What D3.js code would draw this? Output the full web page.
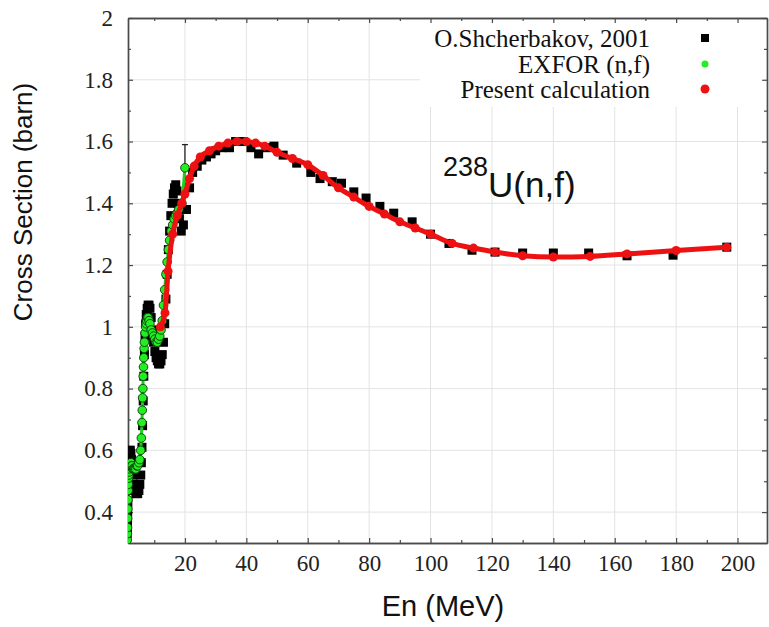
<!DOCTYPE html>
<html>
<head>
<meta charset="utf-8">
<script src="https://cdn.jsdelivr.net/npm/d3@7"></script>
<style>
  html, body { margin: 0; padding: 0; background: #fff; }
  svg { display: block; }
</style>
</head>
<body>
<svg id="chart" width="769" height="627"></svg>
<script>
// ---------------- DATA ----------------
const xMajorTicks = [20, 40, 60, 80, 100, 120, 140, 160, 180, 200];
const xMinorTicks = [10, 30, 50, 70, 90, 110, 130, 150, 170, 190];
const yMajorTicks = [0.4, 0.6, 0.8, 1.0, 1.2, 1.4, 1.6, 1.8, 2.0];
const yMinorTicks = [0.5, 0.7, 0.9, 1.1, 1.3, 1.5, 1.7, 1.9];
const yTickLabels = ["0.4", "0.6", "0.8", "1", "1.2", "1.4", "1.6", "1.8", "2"];

const legendLabels = ["O.Shcherbakov, 2001", "EXFOR (n,f)", "Present calculation"];

// O.Shcherbakov, 2001 (black squares) : energy (MeV), cross section (barn)
const shchE = [1.2,1.25,1.3,1.35,1.4,1.45,1.5,1.55,1.6,1.7,1.8,1.9,2.0,2.2,2.4,2.6,2.8,3.0,3.3,3.6,4.0,4.3,4.6,5.0,5.3,5.6,5.8,6.0,6.2,6.4,6.6,6.8,7.0,7.2,7.4,7.7,8.0,8.3,8.6,9.0,9.4,9.8,10.2,10.6,11.0,11.4,11.8,12.2,12.6,13.0,13.4,13.8,14.2,14.6,15.0,15.4,15.8,16.2,16.6,17.0,17.4,17.8,18.2,18.8,19.5,20.5,21.5,22.5,24,25.5,27,28.5,30,32,34.5,36.5,39,41.5,44,46.5,49,52,56.4,61,64,68,71,75,79,83.5,88,94,100,106,113.5,121,130,140,151.5,164,179,196.5];
const shchXS = [0.33,0.35,0.37,0.40,0.43,0.47,0.51,0.54,0.56,0.58,0.59,0.60,0.60,0.60,0.59,0.57,0.55,0.52,0.49,0.47,0.46,0.46,0.46,0.47,0.49,0.52,0.56,0.61,0.68,0.76,0.84,0.91,0.97,1.01,1.04,1.06,1.07,1.07,1.06,1.03,0.99,0.95,0.92,0.90,0.89,0.88,0.88,0.89,0.91,0.95,1.01,1.09,1.17,1.25,1.31,1.36,1.40,1.43,1.45,1.46,1.44,1.40,1.35,1.31,1.33,1.38,1.45,1.50,1.52,1.54,1.55,1.56,1.57,1.58,1.58,1.60,1.60,1.58,1.56,1.58,1.585,1.556,1.53,1.50,1.48,1.47,1.465,1.437,1.417,1.39,1.368,1.34,1.30,1.27,1.248,1.242,1.239,1.239,1.239,1.23,1.232,1.258];

// EXFOR (n,f) (green dots)
const exforE = [1.2,1.25,1.3,1.35,1.4,1.45,1.5,1.55,1.6,1.7,1.8,1.9,2.0,2.2,2.4,2.6,2.8,3.0,3.3,3.6,4.0,4.3,4.6,5.0,5.3,5.6,5.8,6.0,6.1,6.2,6.3,6.4,6.5,6.6,6.7,6.8,7.0,7.2,7.4,7.6,7.8,8.0,8.3,8.6,9.0,9.4,9.8,10.2,10.6,11.0,11.4,11.8,12.2,12.6,13.0,13.4,13.8,14.2,14.6,15.0,15.5,16.0,16.5,17.0,17.5,18.0,19.0,20.0];
const exforXS = [0.31,0.33,0.35,0.38,0.41,0.44,0.47,0.49,0.51,0.52,0.53,0.54,0.55,0.55,0.56,0.55,0.55,0.54,0.54,0.54,0.54,0.55,0.55,0.56,0.57,0.60,0.64,0.69,0.73,0.77,0.80,0.84,0.87,0.90,0.93,0.95,0.98,1.00,1.01,1.02,1.03,1.03,1.02,1.01,0.99,0.98,0.97,0.96,0.95,0.95,0.96,0.97,0.99,1.02,1.07,1.12,1.17,1.21,1.25,1.28,1.31,1.33,1.35,1.36,1.37,1.38,1.40,1.515];
const exforErrE = [20.0];
const exforErrLo = [1.44];
const exforErrHi = [1.59];

// Present calculation (red)
const calcE = [12,13.5,14.5,16,17.5,19,20,21.5,23,25,28,31,34,37,40,43,46,50,55,60,65,70,75,80,85,90,95,100,107,114,121,130,140,152,164,180,196.5];
const calcXS = [1.00,1.045,1.18,1.30,1.36,1.40,1.43,1.48,1.52,1.55,1.57,1.585,1.595,1.60,1.60,1.595,1.585,1.565,1.545,1.525,1.49,1.45,1.42,1.39,1.365,1.34,1.32,1.30,1.27,1.255,1.242,1.23,1.226,1.228,1.236,1.247,1.258];

// ---------------- DRAW ----------------
const svg = d3.select("#chart");
const x = d3.scaleLinear().domain([1.45, 209.6]).range([128, 767]);
const y = d3.scaleLinear().domain([0.3, 2.0]).range([543, 18]);
const X0 = x.range()[0], X1 = x.range()[1], Y0 = y.range()[0], Y1 = y.range()[1];

const serif = "'Liberation Serif','Times New Roman',serif";
const sans = "'Liberation Sans',Arial,sans-serif";
const axisColor = "#4a4a4a";

// grid
const grid = svg.append("g").attr("stroke", "#e3e3e3").attr("stroke-width", 1);
grid.selectAll("line.v").data(xMajorTicks).join("line")
  .attr("x1", d => x(d)).attr("x2", d => x(d)).attr("y1", Y0).attr("y2", Y1);
grid.selectAll("line.h").data(yMajorTicks.filter(v => v < 2)).join("line")
  .attr("x1", X0).attr("x2", X1).attr("y1", d => y(d)).attr("y2", d => y(d));

// legend background box (covers grid)
svg.append("rect").attr("x", 420).attr("y", Y1 + 1).attr("width", X1 - 421).attr("height", 88).attr("fill", "#fff");

// axes
function styleAxis(g) {
  g.select(".domain").attr("stroke", axisColor).attr("stroke-width", 1.4);
  g.selectAll(".tick line").attr("stroke", axisColor).attr("stroke-width", 1.2);
  g.selectAll("text").attr("fill", "#222").attr("font-family", serif).attr("font-size", 23);
}
const fmtY = d => yTickLabels[yMajorTicks.indexOf(d)] ?? d;

svg.append("g").attr("transform", `translate(0,${Y0})`)
  .call(d3.axisBottom(x).tickValues(xMajorTicks).tickSizeInner(-5).tickSizeOuter(0).tickPadding(12))
  .call(styleAxis);
svg.append("g").attr("transform", `translate(0,${Y0})`)
  .call(d3.axisBottom(x).tickValues(xMinorTicks).tickSizeInner(-3).tickSizeOuter(0).tickFormat(""))
  .call(styleAxis);
svg.append("g").attr("transform", `translate(0,${Y1})`)
  .call(d3.axisTop(x).tickValues(xMajorTicks).tickSizeInner(-5).tickSizeOuter(0).tickFormat(""))
  .call(styleAxis);
svg.append("g").attr("transform", `translate(0,${Y1})`)
  .call(d3.axisTop(x).tickValues(xMinorTicks).tickSizeInner(-3).tickSizeOuter(0).tickFormat(""))
  .call(styleAxis);

svg.append("g").attr("transform", `translate(${X0},0)`)
  .call(d3.axisLeft(y).tickValues(yMajorTicks).tickSizeInner(-5).tickSizeOuter(0).tickPadding(15).tickFormat(fmtY))
  .call(styleAxis);
svg.append("g").attr("transform", `translate(${X0},0)`)
  .call(d3.axisLeft(y).tickValues(yMinorTicks).tickSizeInner(-3).tickSizeOuter(0).tickFormat(""))
  .call(styleAxis);
svg.append("g").attr("transform", `translate(${X1},0)`)
  .call(d3.axisRight(y).tickValues(yMajorTicks).tickSizeInner(-5).tickSizeOuter(0).tickFormat(""))
  .call(styleAxis);
svg.append("g").attr("transform", `translate(${X1},0)`)
  .call(d3.axisRight(y).tickValues(yMinorTicks).tickSizeInner(-3).tickSizeOuter(0).tickFormat(""))
  .call(styleAxis);

// plot area clip
svg.append("clipPath").attr("id", "clip").append("rect")
  .attr("x", X0).attr("y", Y1).attr("width", X1 - X0).attr("height", Y0 - Y1);
const plot = svg.append("g").attr("clip-path", "url(#clip)");

// Shcherbakov squares
const shch = shchE.map((e, i) => ({e, v: shchXS[i]}));
plot.append("g").selectAll("rect").data(shch).join("rect")
  .attr("x", d => x(d.e) - 4.5).attr("y", d => y(d.v) - 4.5)
  .attr("width", 9).attr("height", 9).attr("fill", "#000");

// EXFOR green
const exfor = exforE.map((e, i) => ({e, v: exforXS[i]}));
const errs = exforErrE.map((e, i) => ({e, lo: exforErrLo[i], hi: exforErrHi[i]}));
plot.append("g").selectAll("line").data(errs).join("line")
  .attr("x1", d => x(d.e)).attr("x2", d => x(d.e)).attr("y1", d => y(d.lo)).attr("y2", d => y(d.hi))
  .attr("stroke", "#222").attr("stroke-width", 1.3);
plot.append("g").selectAll("line").data(errs).join("line")
  .attr("x1", d => x(d.e) - 3).attr("x2", d => x(d.e) + 3).attr("y1", d => y(d.hi)).attr("y2", d => y(d.hi))
  .attr("stroke", "#222").attr("stroke-width", 1.3);
plot.append("path").datum(exfor)
  .attr("d", d3.line().x(d => x(d.e)).y(d => y(d.v)))
  .attr("fill", "none").attr("stroke", "#22cc22").attr("stroke-width", 3);
plot.append("g").selectAll("circle").data(exfor).join("circle")
  .attr("cx", d => x(d.e)).attr("cy", d => y(d.v)).attr("r", 4.3)
  .attr("fill", "#22ee22").attr("stroke", "#0a3a0a").attr("stroke-width", 0.9);

// Present calculation red
const calc = calcE.map((e, i) => ({e, v: calcXS[i]}));
plot.append("path").datum(calc)
  .attr("d", d3.line().curve(d3.curveMonotoneX).x(d => x(d.e)).y(d => y(d.v)))
  .attr("fill", "none").attr("stroke", "#ee1111").attr("stroke-width", 5);
plot.append("g").selectAll("circle").data(calc).join("circle")
  .attr("cx", d => x(d.e)).attr("cy", d => y(d.v)).attr("r", 4.5)
  .attr("fill", "#ee1111");

// legend
const legY = [38, 64, 89];
const leg = svg.append("g");
leg.selectAll("text").data(legendLabels).join("text")
  .attr("x", 650).attr("y", (d, i) => legY[i]).attr("dy", "0.35em")
  .attr("text-anchor", "end").attr("font-family", serif).attr("font-size", 25).attr("fill", "#111")
  .text(d => d);
leg.append("rect").attr("x", 701).attr("y", legY[0] - 4).attr("width", 8).attr("height", 8).attr("fill", "#000");
leg.append("circle").attr("cx", 705).attr("cy", legY[1]).attr("r", 3.5).attr("fill", "#22ee22");
leg.append("circle").attr("cx", 705).attr("cy", legY[2]).attr("r", 4.5).attr("fill", "#ee1111");

// annotation
const ann = svg.append("text").attr("x", 443).attr("y", 196)
  .attr("font-family", sans).attr("fill", "#111");
ann.append("tspan").attr("font-size", 27).attr("dy", "-0.75em").text("238");
ann.append("tspan").attr("font-size", 35).attr("dy", "0.6em").text("U(n,f)");

// axis titles
svg.append("text").attr("x", 443).attr("y", 616).attr("text-anchor", "middle")
  .attr("font-family", sans).attr("font-size", 29).attr("fill", "#111").text("En (MeV)");
svg.append("text").attr("transform", "translate(32,202) rotate(-90)").attr("text-anchor", "middle")
  .attr("font-family", sans).attr("font-size", 26).attr("fill", "#111").text("Cross Section (barn)");
</script>
</body>
</html>
